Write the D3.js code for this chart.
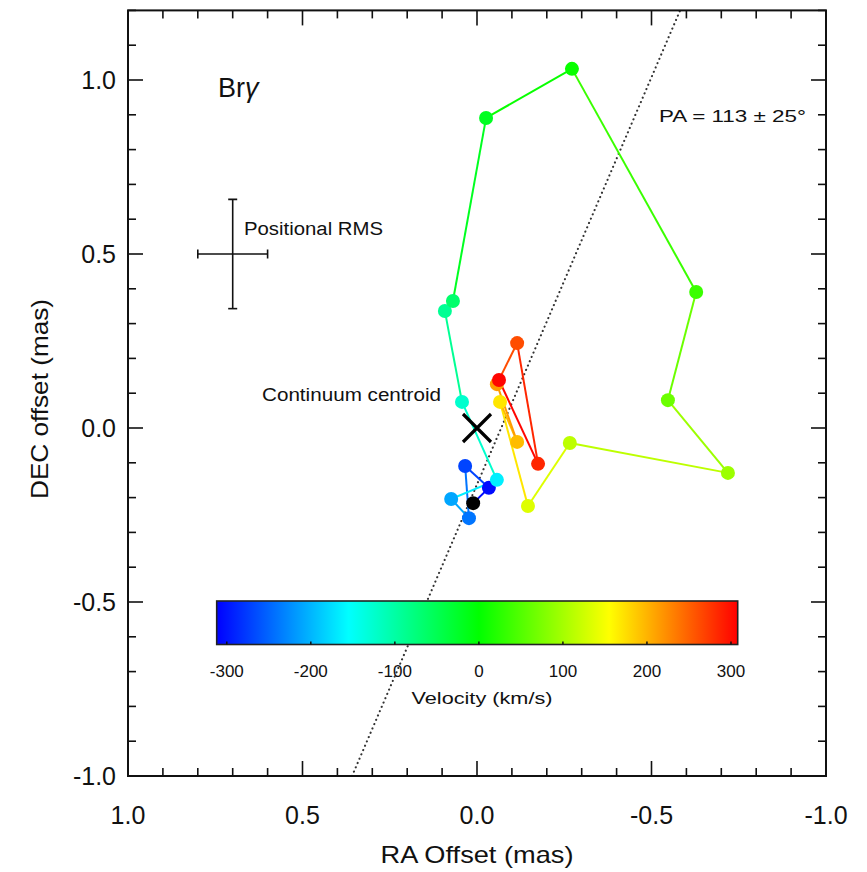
<!DOCTYPE html>
<html>
<head>
<meta charset="utf-8">
<script src="https://cdn.jsdelivr.net/npm/d3@7"></script>
<style>
  html, body { margin: 0; padding: 0; background: #fff; }
  text { font-family: "Liberation Sans", Arial, Helvetica, sans-serif; fill: #111; }
</style>
</head>
<body>
<svg id="chart" width="867" height="872"></svg>
<script>
// ---------------- data ----------------
// RA offset (mas), DEC offset (mas), velocity (km/s) of the Br-gamma photocentre per channel
const raOffset  = [0.011, -0.034, 0.034, 0.023, 0.074, -0.057, 0.043, 0.092, 0.069, -0.026, -0.272,
                   -0.628, -0.547, -0.719, -0.266, -0.146, -0.066, -0.115, -0.057, -0.115, -0.175, -0.063];
const decOffset = [-0.216, -0.172, -0.109, -0.259, -0.204, -0.149, 0.075, 0.336, 0.365, 0.891, 1.032,
                   0.391, 0.080, -0.129, -0.043, -0.224, 0.075, -0.040, 0.126, 0.244, -0.103, 0.138];
const velocity  = [-330, -305, -270, -240, -210, -165, -125, -90, -65, -20, 5,
                   35, 65, 95, 115, 135, 170, 195, 215, 262, 285, 305];

const xTicksMajor = [1.0, 0.5, 0.0, -0.5, -1.0];
const xTickLabels = ["1.0", "0.5", "0.0", "-0.5", "-1.0"];
const yTicksMajor = [-1.0, -0.5, 0.0, 0.5, 1.0];
const yTickLabels = ["-1.0", "-0.5", "0.0", "0.5", "1.0"];
const velTicks = [-300, -200, -100, 0, 100, 200, 300];
const velTickLabels = ["-300", "-200", "-100", "0", "100", "200", "300"];
const velRange = [-312, 308];
const rainbowStops = [-312, -155, 0, 155, 308];
const rainbowColors = ["#0000ff", "#00ffff", "#00ff00", "#ffff00", "#ff0000"];

// PA line (dotted) endpoints in data coords
const paLineRA  = [0.358, -0.582];
const paLineDEC = [-1.0, 1.2];
// continuum centroid
const contRA = [0.0], contDEC = [0.0];
// positional RMS error cross
const rmsCenter = [0.70, 0.50];
const rmsErr = [0.10, 0.157];

// ---------------- layout ----------------
const svg = d3.select("#chart");
const L = 128, R = 826, T = 10.4, B = 776;
const x = d3.scaleLinear().domain([1.0, -1.0]).range([L, R]);
const y = d3.scaleLinear().domain([-1.0, 1.2]).range([B, T]);
const rainbow = d3.scaleLinear().domain(rainbowStops).range(rainbowColors).clamp(true);
const vcolor = v => v < velRange[0] ? "#000000" : rainbow(v);

function fitText(sel, len) {
  sel.attr("textLength", len).attr("lengthAdjust", "spacingAndGlyphs");
  return sel;
}

// clip
svg.append("defs").append("clipPath").attr("id", "plotclip")
  .append("rect").attr("x", L).attr("y", T).attr("width", R - L).attr("height", B - T);

const plot = svg.append("g").attr("clip-path", "url(#plotclip)");

// PA dotted line
plot.append("line")
  .attr("x1", x(paLineRA[0])).attr("y1", y(paLineDEC[0]))
  .attr("x2", x(paLineRA[1])).attr("y2", y(paLineDEC[1]))
  .attr("stroke", "#333").attr("stroke-width", 2.1)
  .attr("stroke-dasharray", "0.1,4.6").attr("stroke-linecap", "round");

// path segments, coloured by their end point
const pts = raOffset.map((r, i) => ({ ra: r, dec: decOffset[i], v: velocity[i] }));
const segs = d3.pairs(pts);
plot.append("g").selectAll("line").data(segs).join("line")
  .attr("x1", d => x(d[0].ra)).attr("y1", d => y(d[0].dec))
  .attr("x2", d => x(d[1].ra)).attr("y2", d => y(d[1].dec))
  .attr("stroke", d => vcolor(d[1].v)).attr("stroke-width", 2);

plot.append("g").selectAll("circle").data(pts).join("circle")
  .attr("cx", d => x(d.ra)).attr("cy", d => y(d.dec)).attr("r", 7)
  .attr("fill", d => vcolor(d.v));

// continuum centroid X
const cx0 = x(contRA[0]), cy0 = y(contDEC[0]), s = 14;
plot.append("path")
  .attr("d", `M${cx0 - s},${cy0 - s}L${cx0 + s},${cy0 + s}M${cx0 - s},${cy0 + s}L${cx0 + s},${cy0 - s}`)
  .attr("stroke", "#000").attr("stroke-width", 3.2).attr("fill", "none");

// RMS cross
const rc = plot.append("g").attr("stroke", "#111").attr("stroke-width", 1.6);
const rx0 = x(rmsCenter[0]), ry0 = y(rmsCenter[1]);
const rxl = x(rmsCenter[0] + rmsErr[0]), rxr = x(rmsCenter[0] - rmsErr[0]);
const ryt = y(rmsCenter[1] + rmsErr[1]), ryb = y(rmsCenter[1] - rmsErr[1]);
rc.append("line").attr("x1", rxl).attr("x2", rxr).attr("y1", ry0).attr("y2", ry0);
rc.append("line").attr("x1", rx0).attr("x2", rx0).attr("y1", ryt).attr("y2", ryb);
rc.append("line").attr("x1", rxl).attr("x2", rxl).attr("y1", ry0 - 4.5).attr("y2", ry0 + 4.5);
rc.append("line").attr("x1", rxr).attr("x2", rxr).attr("y1", ry0 - 4.5).attr("y2", ry0 + 4.5);
rc.append("line").attr("x1", rx0 - 4.5).attr("x2", rx0 + 4.5).attr("y1", ryt).attr("y2", ryt);
rc.append("line").attr("x1", rx0 - 4.5).attr("x2", rx0 + 4.5).attr("y1", ryb).attr("y2", ryb);

// ---------------- axes (ticks on all four sides, inward) ----------------
const xMinor = d3.range(-10, 11).map(i => i / 10);
const yMinor = d3.range(-10, 13).map(i => i / 10);
const isMajor = v => Math.abs(v * 2 - Math.round(v * 2)) < 1e-6;
const ticks = svg.append("g").attr("stroke", "#111").attr("stroke-width", 1.6);
xMinor.forEach(v => {
  const len = isMajor(v) ? 15 : 8;
  ticks.append("line").attr("x1", x(v)).attr("x2", x(v)).attr("y1", B).attr("y2", B - len);
  ticks.append("line").attr("x1", x(v)).attr("x2", x(v)).attr("y1", T).attr("y2", T + len);
});
yMinor.forEach(v => {
  const len = isMajor(v) && v <= 1.0 ? 15 : 8;
  ticks.append("line").attr("y1", y(v)).attr("y2", y(v)).attr("x1", L).attr("x2", L + len);
  ticks.append("line").attr("y1", y(v)).attr("y2", y(v)).attr("x1", R).attr("x2", R - len);
});
svg.append("rect").attr("x", L).attr("y", T).attr("width", R - L).attr("height", B - T)
  .attr("fill", "none").attr("stroke", "#111").attr("stroke-width", 2);

// tick labels
svg.append("g").selectAll("text").data(xTicksMajor).join("text")
  .attr("x", d => x(d)).attr("y", 824).attr("text-anchor", "middle")
  .attr("font-size", 25).text((d, i) => xTickLabels[i]);
svg.append("g").selectAll("text").data(yTicksMajor).join("text")
  .attr("x", 116).attr("y", d => y(d) + 9).attr("text-anchor", "end")
  .attr("font-size", 25).text((d, i) => yTickLabels[i]);

// axis titles
fitText(svg.append("text").attr("x", 477).attr("y", 863).attr("text-anchor", "middle")
  .attr("font-size", 24).text("RA Offset (mas)"), 193);
fitText(svg.append("text").attr("transform", "translate(48,399) rotate(-90)")
  .attr("text-anchor", "middle").attr("font-size", 24).text("DEC offset (mas)"), 200);

// annotations
const br = svg.append("text").attr("x", 218).attr("y", 97).attr("font-size", 27);
br.append("tspan").text("Br");
br.append("tspan").attr("font-style", "italic").text("γ");
fitText(svg.append("text").attr("x", 659).attr("y", 122).attr("font-size", 17).text("PA = 113 ± 25°"), 147);
fitText(svg.append("text").attr("x", 244).attr("y", 235).attr("font-size", 18).text("Positional RMS"), 139);
fitText(svg.append("text").attr("x", 262).attr("y", 401).attr("font-size", 18).text("Continuum centroid"), 179);

// ---------------- colour bar ----------------
const cbL = 216.7, cbR = 737.7, cbT = 601, cbB = 644.5;
const vx = d3.scaleLinear().domain(velRange).range([cbL, cbR]);
const grad = svg.select("defs").append("linearGradient").attr("id", "vgrad")
  .attr("x1", "0%").attr("x2", "100%").attr("y1", "0%").attr("y2", "0%");
rainbowStops.forEach((v, i) => {
  grad.append("stop").attr("offset", ((v - velRange[0]) / (velRange[1] - velRange[0]) * 100) + "%")
    .attr("stop-color", rainbowColors[i]);
});
svg.append("rect").attr("x", cbL).attr("y", cbT).attr("width", cbR - cbL).attr("height", cbB - cbT)
  .attr("fill", "url(#vgrad)").attr("stroke", "#222").attr("stroke-width", 1.6);
svg.append("g").attr("stroke", "#111").attr("stroke-width", 1.5).selectAll("line").data(velTicks).join("line")
  .attr("x1", d => vx(d)).attr("x2", d => vx(d)).attr("y1", cbB).attr("y2", cbB - 3);
svg.append("g").selectAll("text").data(velTicks).join("text")
  .attr("x", d => vx(d)).attr("y", 677).attr("text-anchor", "middle").attr("font-size", 17)
  .text((d, i) => velTickLabels[i]);
fitText(svg.append("text").attr("x", 482).attr("y", 704).attr("text-anchor", "middle")
  .attr("font-size", 17).text("Velocity (km/s)"), 141);
</script>
</body>
</html>
